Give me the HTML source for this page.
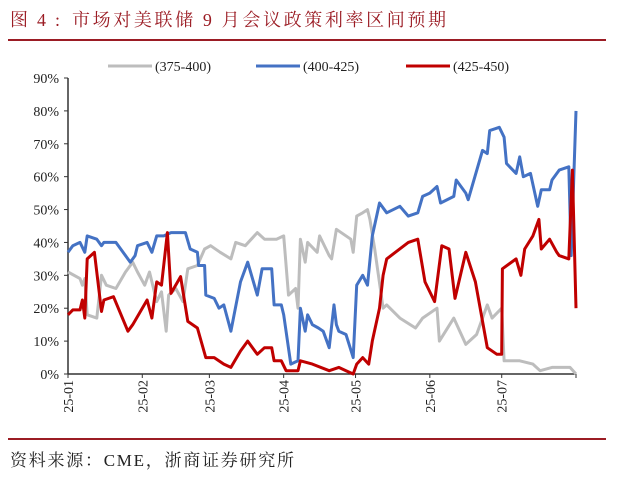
<!DOCTYPE html>
<html><head><meta charset="utf-8"><style>
body{margin:0;background:#fff;}
svg{display:block;font-family:"Liberation Serif","Noto Serif CJK SC",serif;}
</style></head><body>
<svg id="chart" width="621" height="479" viewBox="0 0 621 479">
<text x="10" y="26" font-size="18" fill="#9b1c24" textLength="50" lengthAdjust="spacing">图4:</text>
<text x="72" y="26" font-size="18" fill="#9b1c24" textLength="374" lengthAdjust="spacing">市场对美联储 9 月会议政策利率区间预期</text>
<line x1="8" y1="40" x2="606" y2="40" stroke="#9b1c24" stroke-width="2"/>
<line x1="8" y1="439" x2="606" y2="439" stroke="#9b1c24" stroke-width="2"/>
<text x="10" y="466" font-size="17" fill="#222" textLength="284" lengthAdjust="spacing">资料来源：CME，浙商证券研究所</text>
<g id="legend"></g>
<g id="axes"></g>
<g id="series"></g>
</svg>
<script>
const yTicks=[0,10,20,30,40,50,60,70,80,90];
const monthLabels=["25-01","25-02","25-03","25-04","25-05","25-06","25-07"];
const monthDays=[0,31,59,90,120,151,181];
const seriesNames=["(375-400)","(400-425)","(425-450)"];
const grayDays=[0,5,6,7,8,12,14,16,20,24,27,29,32,34,37,39,41,42,45,48,50,54,57,59.5,63.5,68,70,74,79,82,87,90,92,95,96,97,99,100,104,105,109,110,112,118,119,120.5,123,125,126,128,131.5,133,138.5,145,148,154,155,161,166,170.5,175,177,181,182,188.5,194,197,202,209.5,212];
const grayVals=[31,29,27,29,18,17,30,27,26,31,34,31,27,31,22,25,13,24,26,22,32,33,38,39,37,35,40,39,43,41,41,42,24,26,20,41,34,40,37,42,36,35,44,41,37,48,49,50,47,38,20,21,17,14,17,20,10,17,9,12,21,17,20,4,4,3,1,2,2,0];
const blueDays=[0,2,5,7,8,12,14,15,20,26,28,29,33,35,37,40,43,49,51,54,54.5,57,57.5,61,63,65,68,72,75,79,81,85,86,89,90,93,96,97,99,100,102,104.5,106.5,109,111,112,113,116,119,120.5,123,125,127,130,133,138.5,142,146,148,151,154,155.5,161,162,166,167,173,175,176,180,182,183,187,188.5,190,193,196,197.5,201,202,205,209,210,212];
const blueVals=[37,39,40,37,42,41,39,40,40,34,36,39,40,37,42,42,43,43,38,37,33,33,24,23,20,21,13,28,34,24,32,32,21,21,18,3,4,20,13,18,15,14,13,8,21,15,13,12,5,27,30,27,42,52,49,51,48,49,54,55,57,52,54,59,55,53,68,67,74,75,72,64,61,66,60,61,51,56,56,59,62,63,36,80];
const redDays=[0,2,5,6,7,8,11,14,15,19,25,27,33,35,37,39,41.5,43,47,50,54,57.5,61,65,68,72,75,79,82,85,86,89,91,96,97,102,109,113,116,119,120.5,123,125.5,127,130,131.5,133,142,146,149,153,156,159,161.5,166,170,175,179,181,181.3,187,189,190.6,194,196.5,197.5,201,204,205,209,210.5,212];
const redVals=[18,19.5,19.5,22.5,17,35,37,19,22.5,23.5,13,15,22.5,17,28,27,43,24.5,29.6,16,14,5,5,3,2,7,10,6,8,8,4,4,1,1,4,3,1,2,1,0,3,5,3,10,20,30,35,40,41,28,22,39,38,23,37,28,8,6,6,32,35,30,38,42,47,38,41,37,36,35,62,20];
const colors=["#bdbdbd","#4472c4","#c00000"];
const svgNS="http://www.w3.org/2000/svg";
const X0=68,X1=576,Y0=374,Y90=78,DMAX=212;
function xS(d){return X0+(X1-X0)*d/DMAX;}
function yS(v){return Y0-(Y0-Y90)*v/90;}
function mk(tag,attrs,parent){const e=document.createElementNS(svgNS,tag);for(const k in attrs)e.setAttribute(k,attrs[k]);parent.appendChild(e);return e;}
const axes=document.getElementById('axes');
let yl=mk('line',{x1:X0,y1:Y90,x2:X0,y2:Y0,stroke:'#333','stroke-width':1.5},axes);


let xl=mk('line',{x1:X0,y1:Y0,x2:X1,y2:Y0,stroke:'#333','stroke-width':1.5},axes);


yTicks.forEach(v=>{
  const t=mk('line',{x1:X0-4,y1:yS(v),x2:X0,y2:yS(v),stroke:'#333','stroke-width':1},axes);
  
  
  const l=mk('text',{x:X0-9,y:yS(v)+5,'text-anchor':'end','font-size':14,fill:'#222'},axes);
  
  
  l.textContent=v+'%';
});
monthDays.concat([DMAX]).forEach((d,i)=>{
  const t=mk('line',{x1:xS(d),y1:Y0,x2:xS(d),y2:Y0+4,stroke:'#333','stroke-width':1},axes);
  
  
});
monthLabels.forEach((m,i)=>{
  const x=xS(monthDays[i])+5,y=Y0+6;
  const l=mk('text',{x:x,y:y,'text-anchor':'end','font-size':14,fill:'#222',transform:`rotate(-90 ${x} ${y})`},axes);
  
  
  l.textContent=m;
});
const sg=document.getElementById('series');
[[grayDays,grayVals],[blueDays,blueVals],[redDays,redVals]].forEach((s,i)=>{
  const pts=s[0].map((d,j)=>xS(d).toFixed(1)+','+yS(s[1][j]).toFixed(1)).join(' ');
  const p=mk('polyline',{points:pts,fill:'none',stroke:colors[i],'stroke-width':3,'stroke-linejoin':'round'},sg);
  
  
});
const lg=document.getElementById('legend');
const lx=[108,256,406];
seriesNames.forEach((n,i)=>{
  const l=mk('line',{x1:lx[i],y1:66,x2:lx[i]+44,y2:66,stroke:colors[i],'stroke-width':3},lg);
  
  
  const t=mk('text',{x:lx[i]+47,y:71,'font-size':14,fill:'#222'},lg);
  
  
  t.textContent=n;
});
</script>
</body></html>
